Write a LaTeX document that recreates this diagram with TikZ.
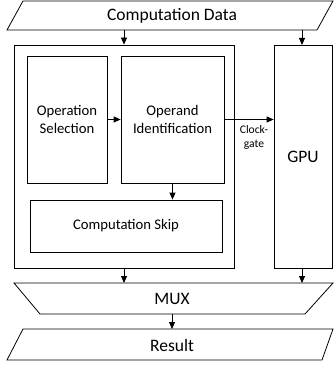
\documentclass[tikz,border=0pt]{standalone}
\usepackage{fontspec}
\setmainfont{Carlito}
\usetikzlibrary{arrows.meta}
\tikzset{
  box/.style={draw, line width=0.8pt, inner sep=0pt},
  shapeline/.style={draw, line width=0.8pt},
  arr/.style={line width=0.8pt, -{Triangle[length=7pt,width=6pt]}},
  bigtxt/.style={font=\fontsize{17.5}{19}\selectfont, inner sep=0pt},
  midtxt/.style={font=\fontsize{14.7}{17.5}\selectfont, inner sep=0pt, align=center},
  smalltxt/.style={font=\fontsize{11.6}{13.5}\selectfont, inner sep=0pt, align=center},
}
\begin{document}
\begin{tikzpicture}[x=1pt,y=-1pt]
\useasboundingbox (0,0) rectangle (334,366);
% Computation Data parallelogram
\coordinate (dtl) at (23,1);
\coordinate (dtr) at (333,1);
\coordinate (dbr) at (317,30);
\coordinate (dbl) at (7,30);
\draw[shapeline] (dtl) -- (dtr) -- (dbr) -- (dbl) -- cycle;
\node[bigtxt] (data) at (172,16) {Computation Data};
% Boxes
\node[box, minimum width=220pt, minimum height=223pt] (big) at (124,156.5) {};
\node[box, minimum width=58.5pt, minimum height=223pt] (gpu) at (303.25,156.5) {};
\node[bigtxt] (gputxt) at (303,157) {GPU};
\node[box, minimum width=80pt, minimum height=127pt, midtxt] (opsel) at (67,119.5) {Operation\\Selection};
\node[box, minimum width=103pt, minimum height=127pt, midtxt] (opid) at (172.5,119.5) {Operand\\Identification};
\node[box, minimum width=192pt, minimum height=52pt, midtxt] (skip) at (126,226) {Computation Skip};
% MUX trapezoid
\coordinate (mtl) at (14,283);
\coordinate (mtr) at (333,283);
\coordinate (mbr) at (305,314);
\coordinate (mbl) at (40,314);
\draw[shapeline] (mtl) -- (mtr) -- (mbr) -- (mbl) -- cycle;
\node[bigtxt] (mux) at (172,299) {MUX};
% Result parallelogram
\coordinate (rtl) at (23,329);
\coordinate (rtr) at (333,329);
\coordinate (rbr) at (322,360);
\coordinate (rbl) at (7,360);
\draw[shapeline] (rtl) -- (rtr) -- (rbr) -- (rbl) -- cycle;
\node[bigtxt] (res) at (172,345) {Result};
% Arrows
\draw[arr] (big.north |- dbl) -- (big.north);
\draw[arr] (302,30) -- (302,45);
\draw[arr] (opsel.east) -- (opid.west);
\draw[arr] (opid.east) -- (opid.east -| gpu.west);
\node[smalltxt] (clk) at (254,137.5) {Clock-\\gate};
\draw[arr] (opid.south) -- (opid.south |- skip.north);
\draw[arr] (big.south) -- (big.south |- mtl);
\draw[arr] (302,268) -- (302,283);
\draw[arr] (mux |- mbl) -- (mux |- rtl);
\end{tikzpicture}
\end{document}
